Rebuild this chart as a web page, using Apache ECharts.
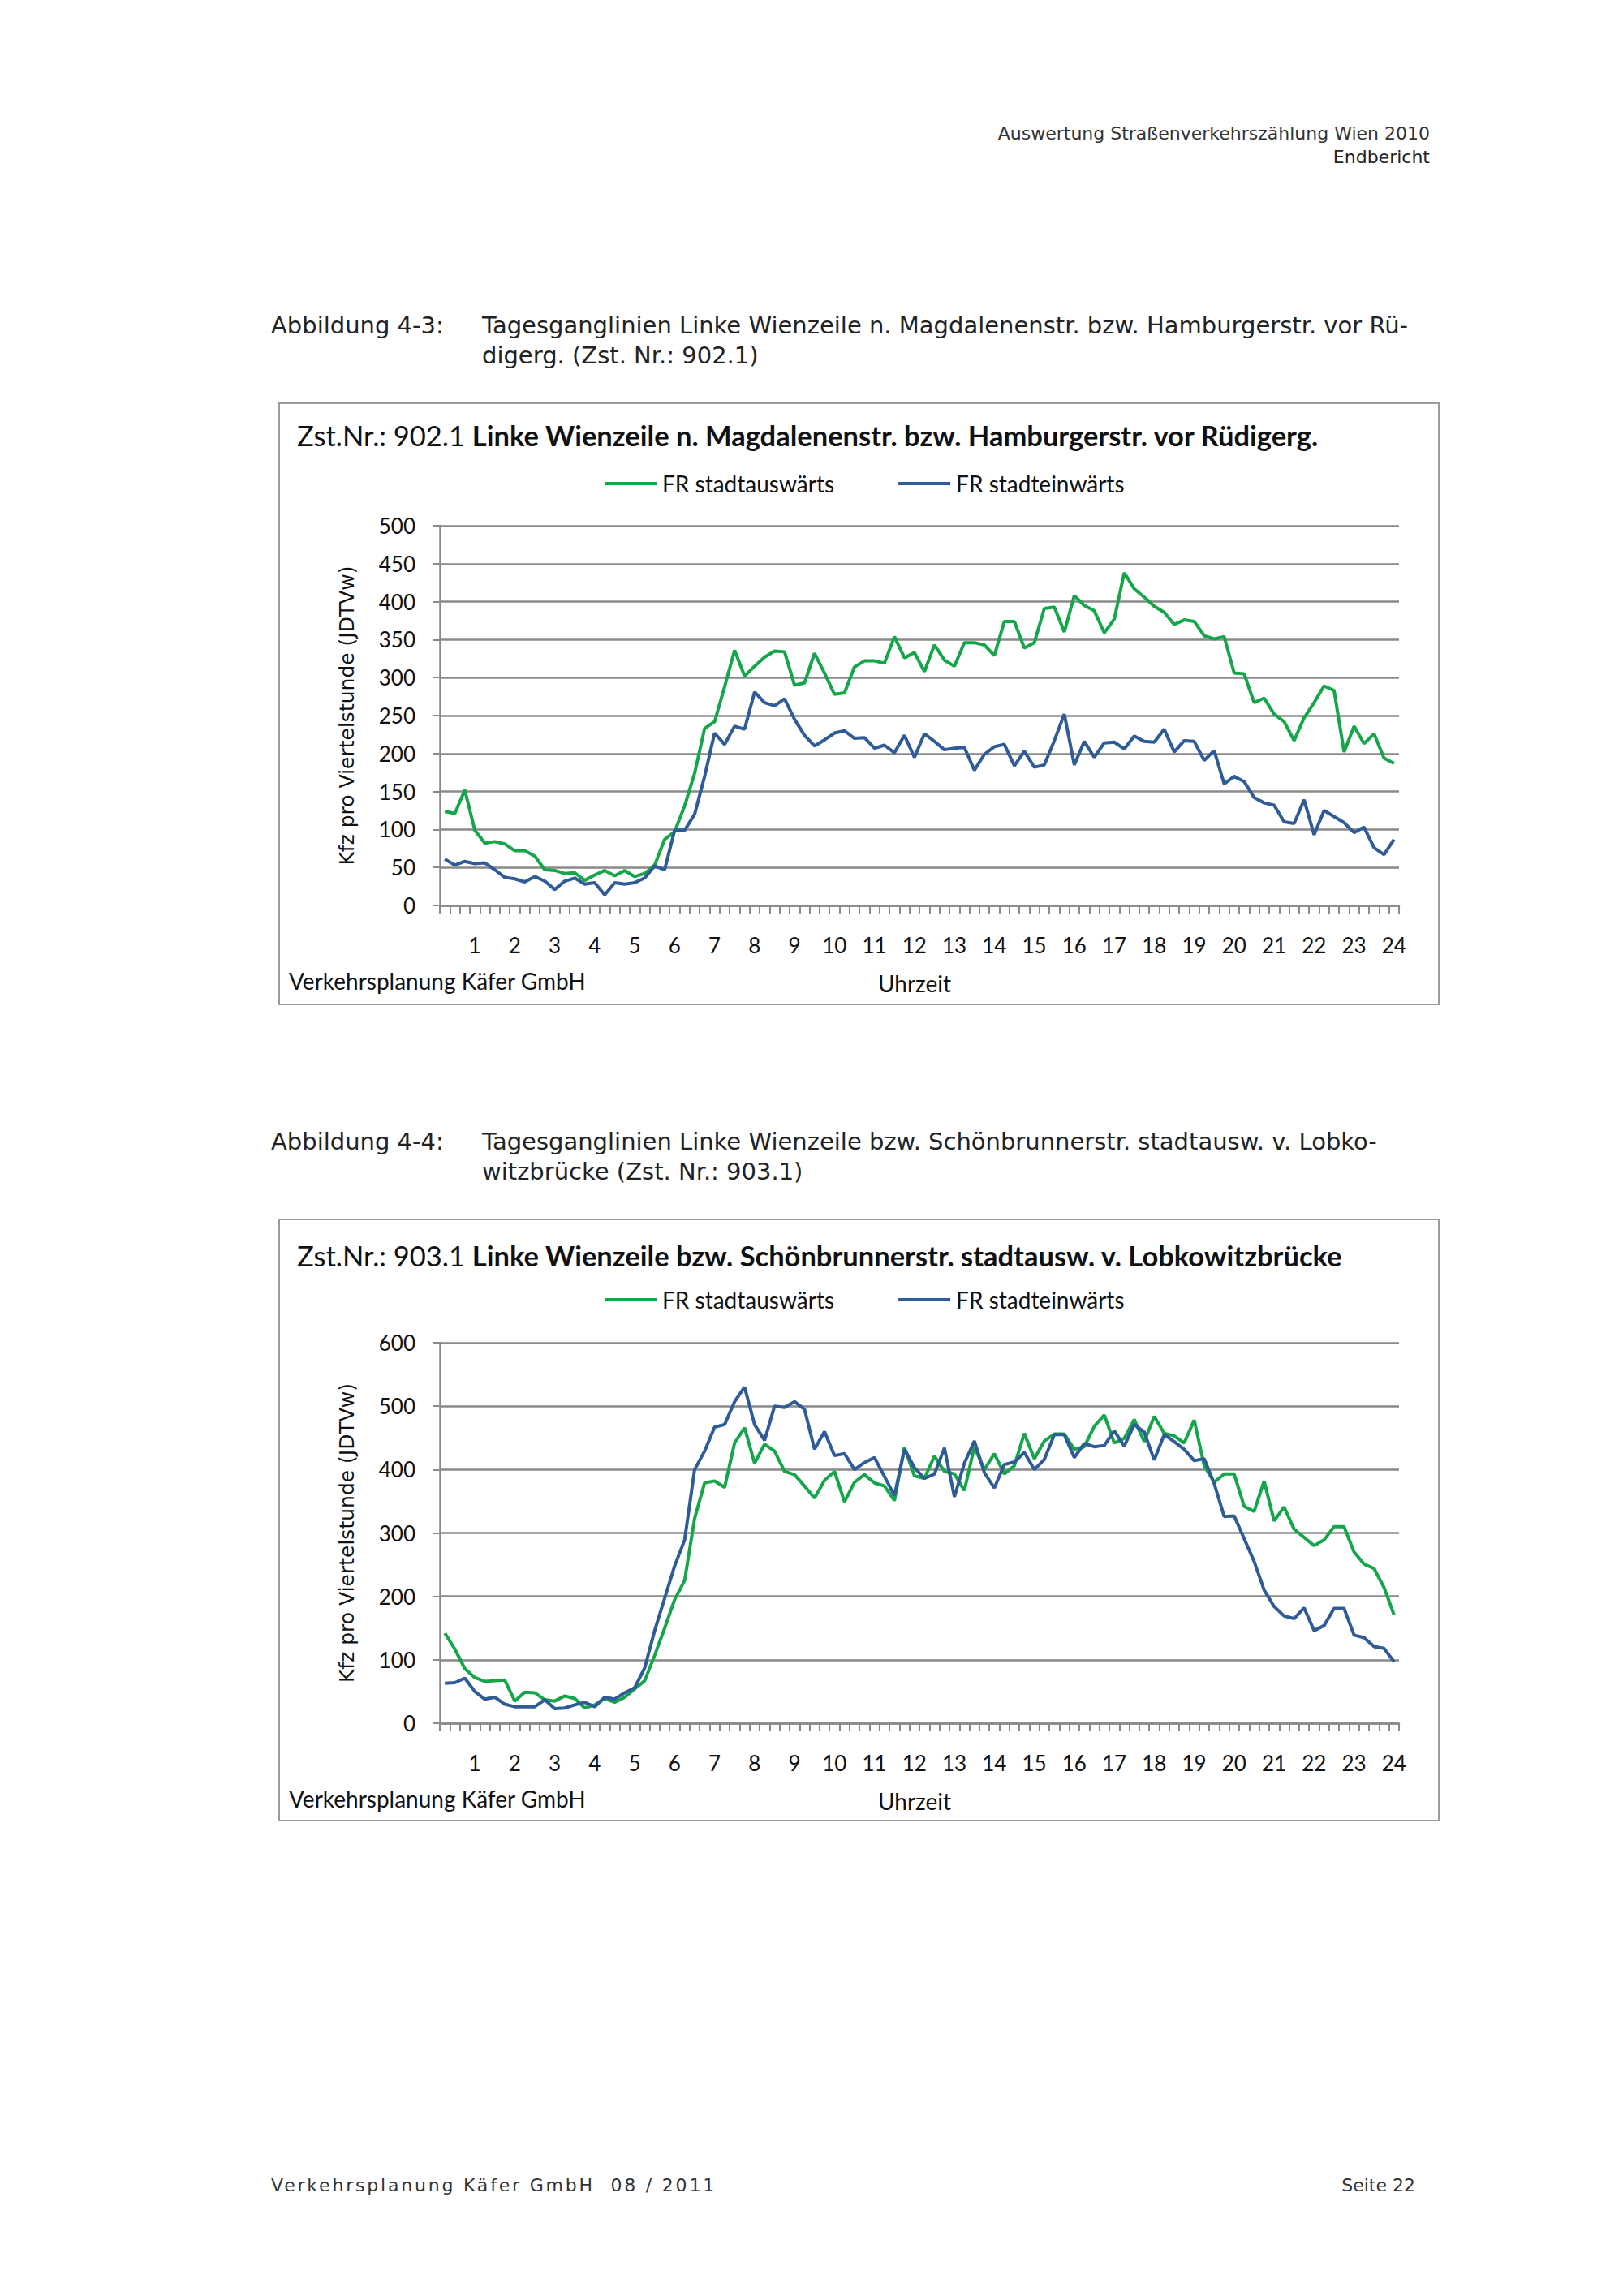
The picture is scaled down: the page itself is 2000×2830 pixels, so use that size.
<!DOCTYPE html>
<html>
<head>
<meta charset="utf-8">
<script src="https://cdn.jsdelivr.net/npm/echarts@6/dist/echarts.min.js"></script>
<style>
html,body{margin:0;padding:0;background:#fff;}
body{width:2000px;height:2830px;position:relative;overflow:hidden;font-family:"DejaVu Sans",sans-serif;color:#222;}
.pt{position:absolute;white-space:nowrap;}
.box{position:absolute;left:343px;width:1431px;height:743px;border:2px solid #9b9b9b;box-sizing:border-box;}
</style>
</head>
<body>
<div class="pt" style="right:238px;top:152px;font-size:22px;color:#333;">Auswertung Straßenverkehrszählung Wien 2010</div>
<div class="pt" style="right:238px;top:181px;font-size:22px;color:#222;">Endbericht</div>

<div class="pt" style="left:334px;top:383px;font-size:29px;line-height:37px;">Abbildung 4-3:</div>
<div class="pt" style="left:594px;top:383px;font-size:29px;line-height:37px;">Tagesganglinien Linke Wienzeile n. Magdalenenstr. bzw. Hamburgerstr. vor Rü-<br>digerg. (Zst. Nr.: 902.1)</div>

<div class="pt" style="left:334px;top:1389px;font-size:29px;line-height:37px;">Abbildung 4-4:</div>
<div class="pt" style="left:594px;top:1389px;font-size:29px;line-height:37px;">Tagesganglinien Linke Wienzeile bzw. Schönbrunnerstr. stadtausw. v. Lobko-<br>witzbrücke (Zst. Nr.: 903.1)</div>

<div id="c1" class="box" style="top:496px;"></div>
<div id="c2" class="box" style="top:1502px;"></div>

<div class="pt" style="left:334px;top:2681px;font-size:22px;letter-spacing:2.8px;color:#333;">Verkehrsplanung Käfer GmbH&nbsp;&nbsp;08 / 2011</div>
<div class="pt" style="right:256px;top:2681px;font-size:22px;color:#333;">Seite 22</div>

<script>
// ---- data ----
const hourLabels = ['1','2','3','4','5','6','7','8','9','10','11','12','13','14','15','16','17','18','19','20','21','22','23','24'];
const seriesNames = ['FR stadtauswärts','FR stadteinwärts'];

const chart1Title = 'Zst.Nr.: 902.1 ';
const chart1TitleBold = 'Linke Wienzeile n. Magdalenenstr. bzw. Hamburgerstr. vor Rüdigerg.';
const chart1Y = [0, 500, 50];
const chart1Out = [124,121,152,99,82,84,81,72,72,65,47,46,42,43,33,40,46,39,46,38,42,53,87,97,
  131,174,233,242,288,336,302,315,327,335,334,290,293,332,306,278,280,314,322,322,319,354,326,333,
  308,343,323,315,346,346,343,329,374,374,339,346,391,393,360,408,395,388,359,377,438,417,406,394,
  386,370,376,374,355,351,354,306,305,267,273,252,242,217,247,267,289,283,202,236,213,226,194,187];
const chart1In = [61,53,58,55,56,47,37,35,31,38,32,21,32,36,28,30,14,30,28,30,36,52,47,99,
  99,120,170,227,212,236,232,281,267,263,272,245,224,210,218,227,230,220,221,207,211,201,224,195,
  226,216,205,207,208,178,199,209,212,184,203,182,185,217,252,185,216,195,214,215,206,223,216,215,
  232,202,217,216,191,204,160,170,163,142,135,132,110,108,139,93,125,117,109,96,103,76,67,87];

const chart2Title = 'Zst.Nr.: 903.1 ';
const chart2TitleBold = 'Linke Wienzeile bzw. Schönbrunnerstr. stadtausw. v. Lobkowitzbrücke';
const chart2Y = [0, 600, 100];
const chart2Out = [142,117,86,72,66,67,68,35,49,48,37,35,43,39,24,29,39,33,41,54,67,107,150,195,
  225,323,379,382,372,442,466,410,440,429,397,392,374,355,383,397,349,380,392,379,374,351,435,390,
  386,421,397,393,367,436,400,425,393,406,457,417,445,456,456,432,436,468,486,442,449,479,444,484,
  457,453,442,478,406,380,393,393,342,334,382,319,341,306,293,280,289,310,310,270,251,244,214,171];
const chart2In = [63,64,71,50,38,41,30,26,26,26,37,23,24,29,33,26,41,38,48,56,87,146,197,248,
  289,400,429,467,471,507,530,471,446,500,498,507,495,432,460,422,425,400,411,419,389,359,432,403,
  386,393,434,357,410,445,395,371,408,412,427,400,416,455,455,419,441,436,438,461,437,471,459,415,
  455,444,432,414,417,378,326,327,291,255,210,184,169,165,182,146,154,181,181,139,135,121,118,97];

const yAxisTitle = 'Kfz pro Viertelstunde (JDTVw)';
const xAxisTitle = 'Uhrzeit';
const sourceText = 'Verkehrsplanung Käfer GmbH';

// 96 quarter-hour slots; the hour label sits on the last quarter of each hour
const categories = [];
hourLabels.forEach(function(h){ categories.push('', '', '', h); });

const GREEN = '#15a64a';
const BLUE = '#2f5b96';
const GRIDC = '#8a8a8a';
const FONT = 'Lato';

function makeOption(t, tb, yr, outV, inV, titleTop, gridTop, gridH, labelY){
  return {
    animation: false,
    title: {
      text: '{n|' + t + '}{b|' + tb + '}',
      left: 21, top: titleTop, padding: 0,
      textStyle: { rich: {
        n: { fontFamily: FONT, fontSize: 34.5, fontWeight: 'normal', color: '#111', lineHeight: 40 },
        b: { fontFamily: FONT, fontSize: 34.5, fontWeight: 'bold', color: '#111', lineHeight: 40 }
      } }
    },
    legend: {
      left: 400, top: 84, padding: 0, itemGap: 79,
      icon: 'rect', itemWidth: 64, itemHeight: 4,
      textStyle: { fontFamily: FONT, fontSize: 28, color: '#111', padding: [0,0,0,2] },
      data: seriesNames
    },
    grid: { left: 197, top: gridTop, width: 1182, height: gridH, containLabel: false },
    xAxis: {
      type: 'category', data: categories, boundaryGap: true,
      axisLine: { show: true, lineStyle: { color: GRIDC, width: 2.5 } },
      axisTick: { show: true, interval: 0, length: 10, lineStyle: { color: GRIDC, width: 2 } },
      axisLabel: { interval: 0, margin: 36, fontFamily: FONT, fontSize: 26, color: '#111' },
      splitLine: { show: false }
    },
    yAxis: {
      type: 'value', min: yr[0], max: yr[1], interval: yr[2],
      name: yAxisTitle, nameLocation: 'middle', nameRotate: 90, nameGap: 102,
      nameTextStyle: { fontFamily: 'DejaVu Sans', fontSize: 25, color: '#111' },
      axisLine: { show: true, lineStyle: { color: GRIDC, width: 2.5 } },
      axisTick: { show: true, length: 9, lineStyle: { color: GRIDC, width: 2 } },
      axisLabel: { margin: 30, fontFamily: FONT, fontSize: 26, color: '#111' },
      splitLine: { show: true, lineStyle: { color: GRIDC, width: 2.5 } }
    },
    graphic: [{
      type: 'text', left: 11, top: labelY - 17,
      style: { text: sourceText, font: '28px ' + FONT, fill: '#111' }
    }, {
      type: 'text', x: 782, y: labelY,
      style: { text: xAxisTitle, font: '28px ' + FONT, fill: '#111', align: 'center', verticalAlign: 'middle' }
    }],
    series: [
      { name: seriesNames[0], type: 'line', data: outV, showSymbol: false, symbol: 'none',
        lineStyle: { color: GREEN, width: 4 }, itemStyle: { color: GREEN } },
      { name: seriesNames[1], type: 'line', data: inV, showSymbol: false, symbol: 'none',
        lineStyle: { color: BLUE, width: 4 }, itemStyle: { color: BLUE } }
    ]
  };
}

const ch1 = echarts.init(document.getElementById('c1'), null, { renderer: 'svg' });
ch1.setOption(makeOption(chart1Title, chart1TitleBold, chart1Y, chart1Out, chart1In, 18, 150, 468, 714));
const ch2 = echarts.init(document.getElementById('c2'), null, { renderer: 'svg' });
ch2.setOption(makeOption(chart2Title, chart2TitleBold, chart2Y, chart2Out, chart2In, 23, 151, 469, 716));
</script>
</body>
</html>
